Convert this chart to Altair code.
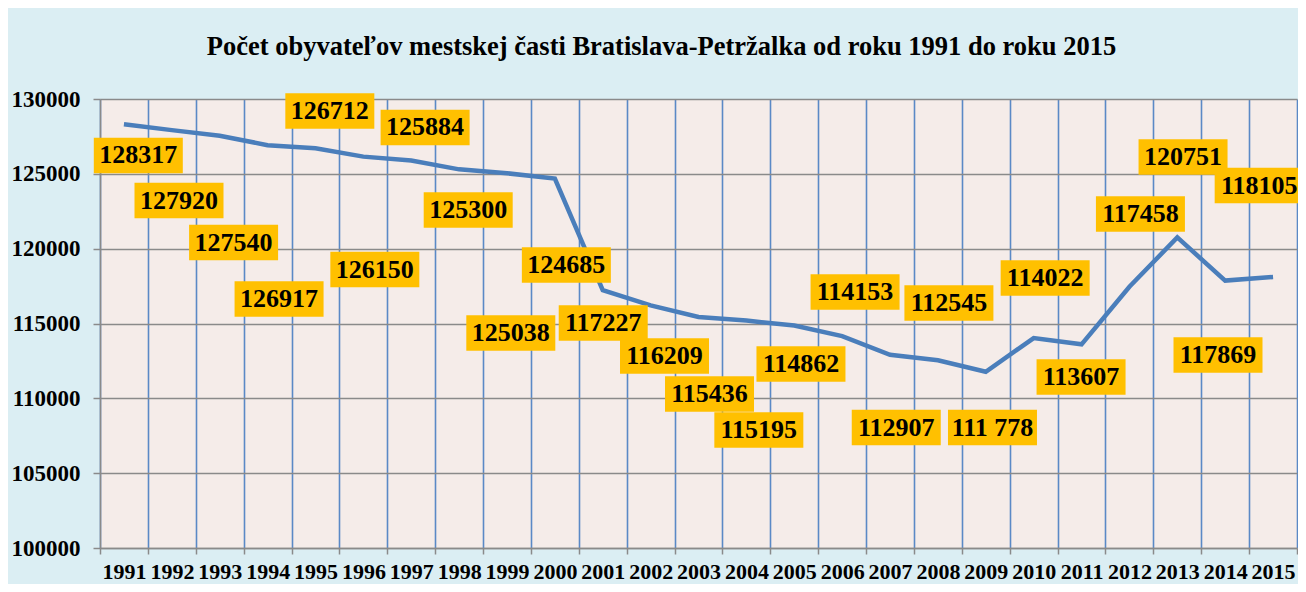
import altair as alt
import pandas as pd

# ---- data ----
years = list(range(1991, 2016))
population = [128317, 127920, 127540, 126917, 126712, 126150, 125884, 125300, 125038, 124685,
              117227, 116209, 115436, 115195, 114862, 114153, 112907, 112545, 111778, 114022,
              113607, 117458, 120751, 117869, 118105]
label_text = ["128317", "127920", "127540", "126917", "126712", "126150", "125884", "125300",
              "125038", "124685", "117227", "116209", "115436", "115195", "114862", "114153",
              "112907", "112545", "111 778", "114022", "113607", "117458", "120751", "117869",
              "118105"]
# where each data label box sits (in data units: year position, population)
label_x = [1991.30, 1992.15, 1993.29, 1994.24, 1995.30, 1996.24, 1997.29, 1998.19, 1999.08, 2000.24,
           2001.01, 2002.29, 2003.23, 2004.26, 2005.14, 2006.27, 2007.13, 2008.23, 2009.14, 2010.24,
           2010.99, 2012.23, 2013.12, 2013.85, 2014.71]
label_y = [126225, 123218, 120412, 116637, 129198, 118608, 128096, 122584, 114365, 118909,
           115033, 112829, 110290, 107884, 112294, 117105, 108051, 116370, 108051, 118040,
           111425, 122316, 126125, 112895, 124220]
y_ticks = [100000, 105000, 110000, 115000, 120000, 125000, 130000]
title_text = "Počet obyvateľov mestskej časti Bratislava-Petržalka od roku 1991 do roku 2015"

df_line = pd.DataFrame({"year": years, "pop": population})
df_lab = pd.DataFrame({"year": label_x, "pop": label_y, "txt": label_text})

FONT = "Liberation Serif"
GRAY = "#8A8A8A"

x_scale = alt.Scale(domain=[years[0] - 0.5, years[-1] + 0.5], nice=False, zero=False)
y_scale = alt.Scale(domain=[y_ticks[0], y_ticks[-1]], nice=False, zero=False)

x_axis = alt.Axis(
    values=[y - 0.5 for y in years] + [years[-1] + 0.5],
    labelExpr=f"datum.value < {years[-1]} ? format(datum.value + 0.5, 'd') : ''",
    labelOffset=24, labelFlush=False, labelOverlap=False, labelBound=False,
    grid=True, gridColor="#5A89C6", gridWidth=1.6,
    tickSize=6, tickColor=GRAY, tickWidth=1.5, domainColor=GRAY, domainWidth=1.5,
    labelFont=FONT, labelFontWeight="bold", labelFontSize=22, labelColor="black",
    labelPadding=7, labelAngle=0, title=None,
)
y_axis = alt.Axis(
    values=y_ticks, format="d", labelFlush=False, labelOverlap=False,
    grid=True, gridColor=GRAY, gridWidth=1.6,
    tickSize=7, tickColor=GRAY, tickWidth=1.5, domainColor=GRAY, domainWidth=1.5,
    labelFont=FONT, labelFontWeight="bold", labelFontSize=23, labelColor="black",
    labelPadding=13, title=None,
)

X = alt.X("year:Q", scale=x_scale, axis=x_axis)
Y = alt.Y("pop:Q", scale=y_scale, axis=y_axis)

line = alt.Chart(df_line).mark_line(color="#4A7EBB", strokeWidth=4.5).encode(x=X, y=Y)

boxes = alt.Chart(df_lab).mark_point(
    shape="M-1,-0.4L1,-0.4L1,0.4L-1,0.4Z", size=7921, filled=True,
    color="#FFC000", opacity=1, strokeWidth=0,
).encode(x=X, y=Y)

texts = alt.Chart(df_lab).mark_text(
    font=FONT, fontWeight="bold", fontSize=26, color="black",
    align="center", baseline="middle",
).encode(x=X, y=Y, text="txt:N")

chart = (
    alt.layer(line, boxes, texts)
    .properties(
        width=1197, height=449,
        autosize=alt.AutoSizeParams(type="none"),
        padding={"left": 92, "top": 91, "right": 1, "bottom": 36},
        title=alt.TitleParams(
            text=title_text, font=FONT, fontSize=26.5, fontWeight="bold", color="black",
            anchor="middle", dx=-37, offset=28,
        ),
    )
    .configure(background="#DBEEF3")
    .configure_view(fill="#F5ECE9", stroke=None)
)

chart.save("out.html", embed_options={"renderer": "svg", "actions": False})
